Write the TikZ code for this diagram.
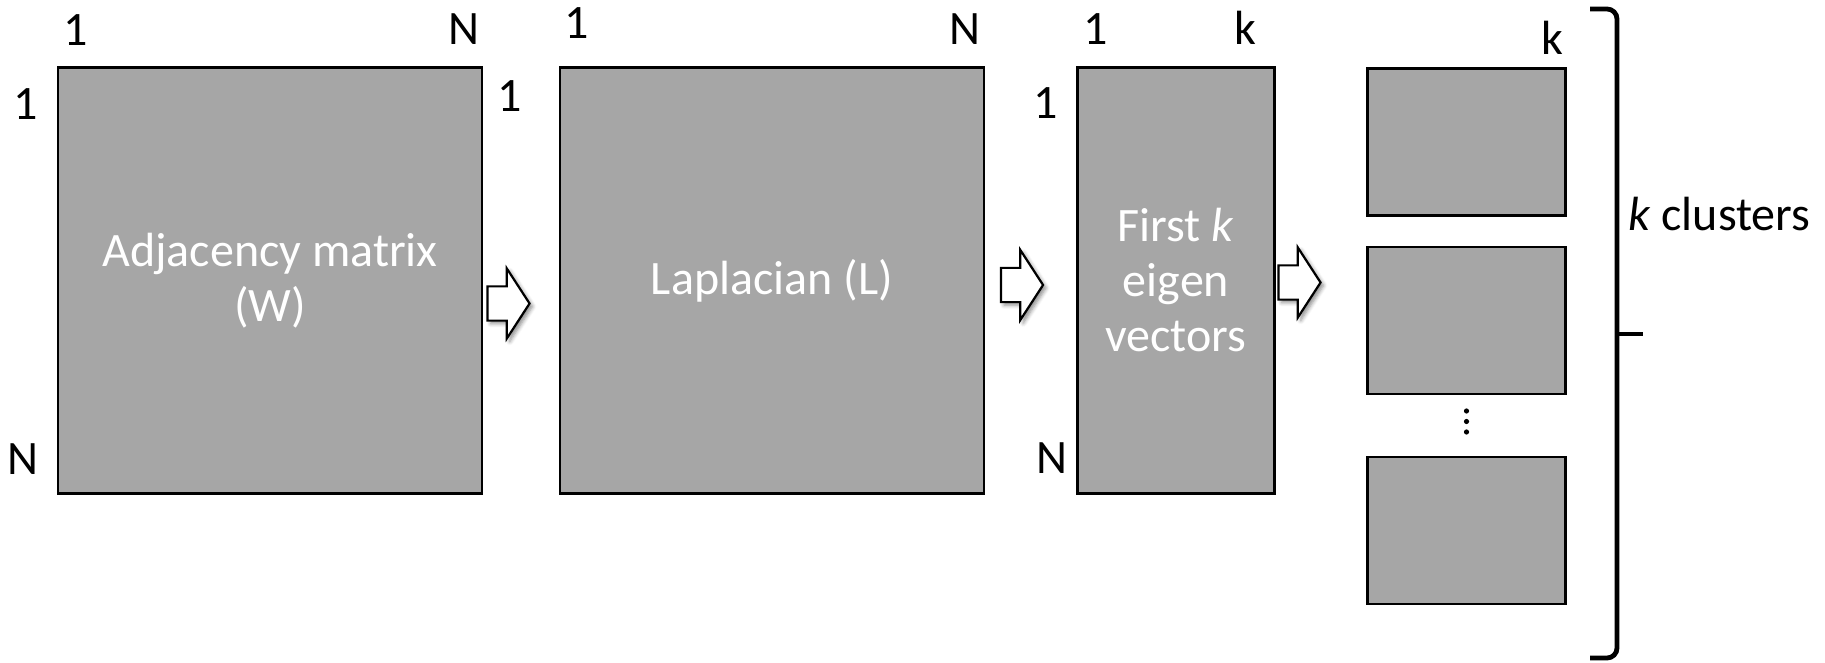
\documentclass[tikz,border=0pt]{standalone}
\usepackage{fontspec}
\setmainfont{Carlito}
\usetikzlibrary{positioning, shapes.arrows, shadows.blur}
\definecolor{matGray}{HTML}{A6A6A6}

\begin{document}
\begin{tikzpicture}[
  x=0.5pt, y=-0.5pt,
  font=\fontsize{24}{27.5}\selectfont,
  mat/.style={rectangle, draw, line width=1.2pt, fill=matGray, text=white, align=center, inner sep=0pt},
  idx/.style={anchor=base, inner sep=0pt},
  blockarrow/.style={single arrow, draw, fill=white, line width=1.1pt, inner xsep=0pt, inner ysep=8pt,
    single arrow head extend=9pt, single arrow tip angle=114, minimum height=21pt,
    blur shadow={shadow xshift=1.5pt, shadow yshift=-1.5pt, shadow blur steps=5, shadow opacity=45}},
  brace/.style={line width=2.4pt}
]
\useasboundingbox (0,0) rectangle (1825,663);

% matrices
\node[mat, minimum width=212pt, minimum height=213pt] (W) at (270,280.5) {Adjacency matrix\\(W)};
\node[mat, minimum width=212pt, minimum height=213pt] (L) at (772,280.5) {Laplacian (L)};
\node[mat, minimum width=98.4pt, minimum height=213pt] (V) at (1176,280.5) {First \textit{k}\\eigen\\vectors};

% clusters
\node[mat, minimum width=99pt, minimum height=73.5pt] (C1) at (1466.5,142) {};
\node[mat, minimum width=99pt, minimum height=73.5pt] (C2) at (1466.5,320.7) {};
\node[mat, minimum width=99pt, minimum height=73.5pt] (C3) at (1466.5,530.7) {};
\foreach \y in {411,421.5,432}
  \fill (1466.5,\y) circle (2.6);

% indices
\node[idx] (W1t) at (75.6,46) {1};
\node[idx] (WNt) at (464,45) {N};
\node[idx] (W1l) at (25.6,120) {1};
\node[idx] (WNl) at (23,474) {N};
\node[idx] (L1t) at (577,39) {1};
\node[idx] (LNt) at (965,45) {N};
\node[idx] (L1l) at (510,112) {1};
\node[idx] (V1t) at (1096,45) {1};
\node[idx] (Vkt) at (1245,45) {k};
\node[idx] (V1l) at (1046,119) {1};
\node[idx] (VNl) at (1052,473) {N};
\node[idx] (Ckt) at (1552,55) {k};

% steps
\node[blockarrow] (a1) at (503,303.5) {};
\node[blockarrow] (a2) at (1016.5,285) {};
\node[blockarrow] (a3) at (1294,282.5) {};

% brace
\draw[brace, rounded corners=5pt] (1590,9) -- (1617,9) -- (1617,658) -- (1590,658);
\draw[brace] (1617,334) -- (1643,334);
\node[anchor=base west, inner sep=0pt] (kc) at (1628,231) {\textit{k} clusters};
\end{tikzpicture}
\end{document}
